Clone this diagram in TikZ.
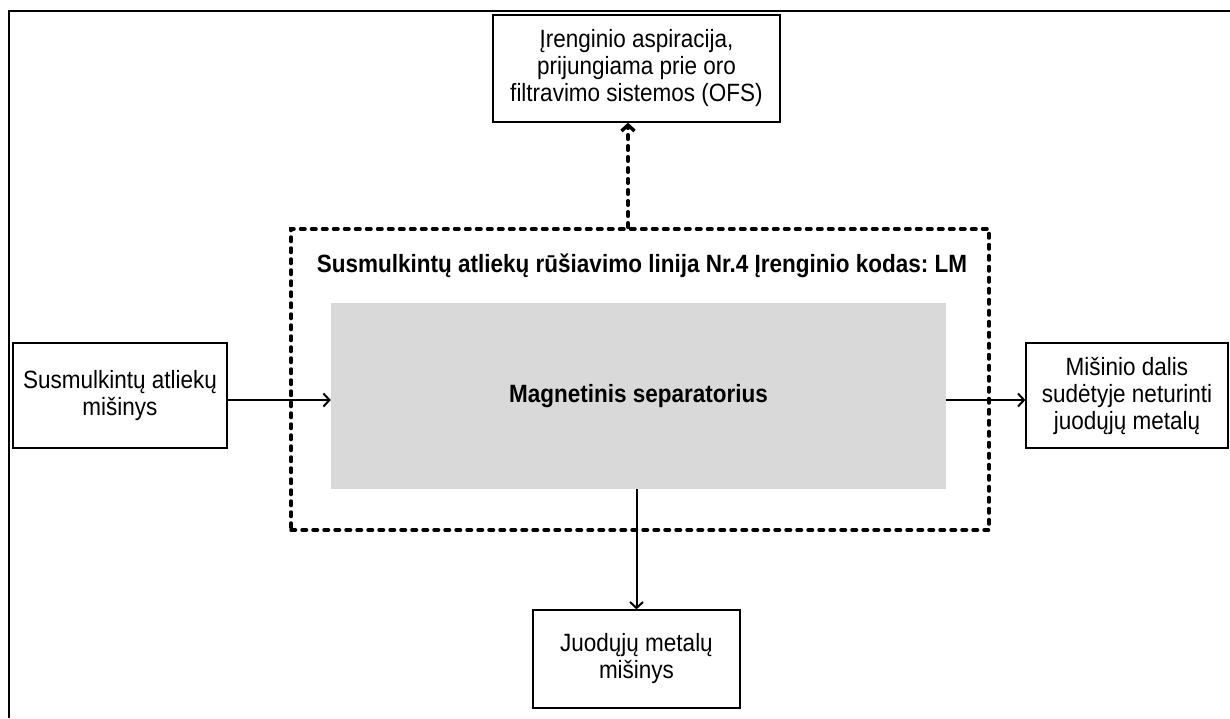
\documentclass[tikz,border=0pt]{standalone}
\usepackage{fontspec}
\setmainfont{Liberation Sans}[FakeStretch=0.9]
\usetikzlibrary{arrows.meta}
\definecolor{sepgray}{HTML}{D9D9D9}
\frenchspacing
\begin{document}
\begin{tikzpicture}[x=1pt,y=-1pt,
  box/.style={draw, line width=1.3pt, align=center, inner sep=0pt,
    font=\fontsize{25}{27}\selectfont},
  flow/.style={line width=2pt, -{Straight Barb[length=6pt,width=13pt]}},
  dots/.style={line width=3.5pt, line cap=round, dash pattern=on 4.5pt off 6.5pt},
]
\useasboundingbox (0,0) rectangle (1230,718);
% page frame (open at the right and bottom)
\coordinate (fbl) at (9,718);
\coordinate (ftl) at (9,11);
\coordinate (ftr) at (1230,11);
\draw[line width=2pt] (fbl) -- (ftl) -- (ftr);

% outer process line (dashed)
\node[draw, dots, minimum width=698pt, minimum height=301pt, inner sep=0pt] (line) at (640,379.5) {};
\node[font=\bfseries\fontsize{25}{27}\selectfont] (title) at (642,266)
  {Susmulkintų atliekų rūšiavimo linija Nr.4 Įrenginio kodas: LM};

% separator
\node[fill=sepgray, minimum width=615pt, minimum height=186pt, inner sep=0pt,
  font=\bfseries\fontsize{25}{27}\selectfont] (sep) at (638.5,396) {Magnetinis separatorius};

% surrounding boxes
\node[box, minimum width=287pt, minimum height=107pt] (aspir) at (636.5,68.5)
  {Įrenginio aspiracija,\\prijungiama prie oro\\filtravimo sistemos (OFS)};
\node[box, minimum width=214pt, minimum height=105pt] (input) at (120,395.5)
  {Susmulkintų atliekų\\mišinys};
\node[box, minimum width=202pt, minimum height=105pt] (output) at (1127,395.5)
  {Mišinio dalis\\sudėtyje neturinti\\juodųjų metalų};
\node[box, minimum width=207pt, minimum height=98pt] (metal) at (636.5,659)
  {Juodųjų metalų\\mišinys};

% connectors
\coordinate (inA) at ([yshift=-4.5pt]input.east);
\draw[flow] (inA) -- (inA -| sep.west);
\coordinate (outA) at ([yshift=-4.5pt]output.west);
\draw[flow] (outA -| sep.east) -- (outA);
\draw[flow] (metal.north |- sep.south) -- (metal.north);
\coordinate (upA) at ([xshift=-8.5pt]aspir.south);
\draw[dots, -{Straight Barb[length=6pt,width=13pt,line width=3.5pt]}] (upA |- line.north) -- (upA);
\end{tikzpicture}
\end{document}
